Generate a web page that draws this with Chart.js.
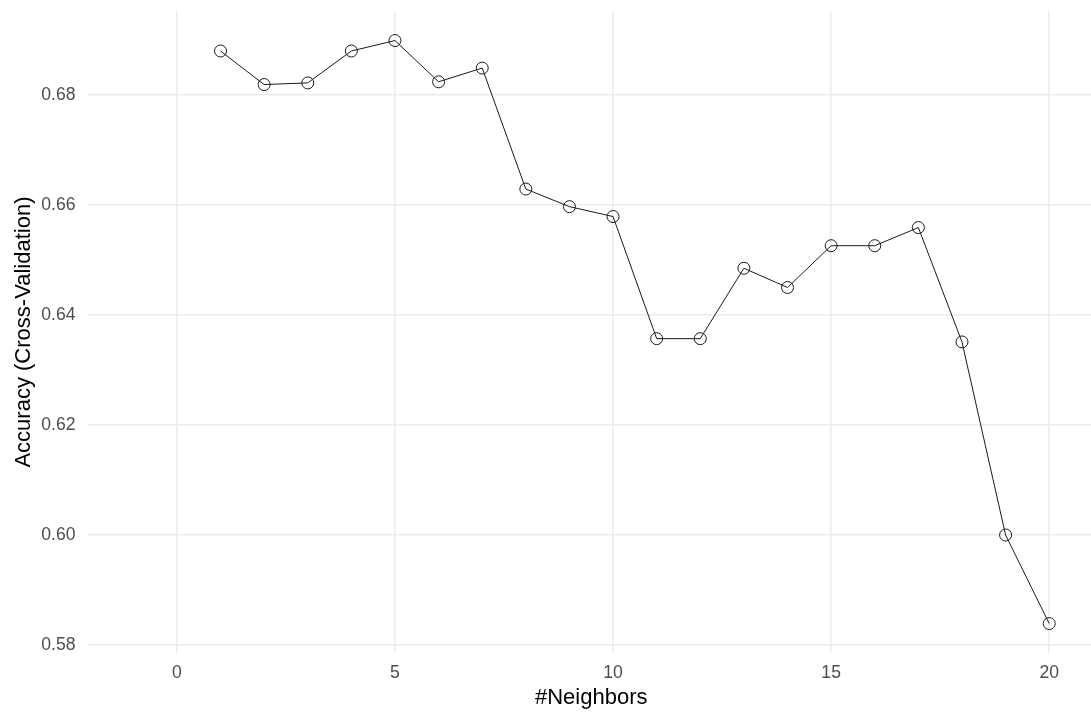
<!DOCTYPE html>
<html>
<head>
    <title>Accuracy vs Neighbors</title>
    <script src="https://cdn.jsdelivr.net/npm/chart.js@4/dist/chart.umd.min.js"></script>
    <style>
        body { margin: 0; background: #fff; overflow: hidden; }
        #wrap { width: 1091px; height: 715px; overflow: hidden; }
    </style>
</head>
<body>
    <div id="wrap">
        <canvas id="chartCanvas" width="1102" height="715"></canvas>
    </div>

    <script>
        // data
        const neighbors = [1, 2, 3, 4, 5, 6, 7, 8, 9, 10, 11, 12, 13, 14, 15, 16, 17, 18, 19, 20];
        const accuracy = [0.6880, 0.6819, 0.6822, 0.6880, 0.6899, 0.6824, 0.6849, 0.6629, 0.6597, 0.6579,
                          0.6357, 0.6357, 0.6485, 0.6450, 0.6526, 0.6526, 0.6559, 0.6351, 0.6000, 0.5839];
        const xTicks = [0, 5, 10, 15, 20];
        const yTicks = [0.58, 0.60, 0.62, 0.64, 0.66, 0.68];

        const font = 'Liberation Sans, Arial, sans-serif';
        const gridColor = '#ebebeb';

        const points = neighbors.map((n, i) => ({ x: n, y: accuracy[i] }));

        const ctx = document.getElementById('chartCanvas').getContext('2d');
        const chart = new Chart(ctx, {
            type: 'scatter',
            data: {
                datasets: [{
                    data: points,
                    showLine: true,
                    borderColor: '#1a1a1a',
                    borderWidth: 1,
                    pointRadius: 6,
                    pointHoverRadius: 6,
                    pointBorderWidth: 1,
                    pointBorderColor: '#1a1a1a',
                    pointBackgroundColor: 'rgba(0,0,0,0)',
                }],
            },
            options: {
                responsive: false,
                animation: false,
                layout: { padding: { top: 11.4, right: 0, bottom: 0, left: 0 } },
                plugins: {
                    legend: { display: false },
                    tooltip: { enabled: false },
                },
                scales: {
                    x: {
                        type: 'linear',
                        min: -2.05,
                        max: 21.05,
                        afterBuildTicks: s => { s.ticks = xTicks.map(v => ({ value: v })); },
                        afterFit: s => {
                            s.height = 62.3;
                            s.paddingLeft = 0;
                            s.paddingRight = 0;
                        },
                        grid: { color: gridColor, lineWidth: 1.5, drawTicks: false },
                        border: { display: false },
                        ticks: {
                            padding: 10,
                            color: '#4d4d4d',
                            font: { family: font, size: 17.6 },
                            callback: v => String(v),
                        },
                        title: {
                            display: true,
                            text: '#Neighbors',
                            color: '#000',
                            font: { family: font, size: 22 },
                            padding: { top: 0, bottom: 3.5 },
                        },
                    },
                    y: {
                        min: 0.5786,
                        max: 0.6952,
                        afterBuildTicks: s => { s.ticks = yTicks.map(v => ({ value: v })); },
                        afterFit: s => {
                            s.width = 87.5;
                            s.paddingTop = 0;
                            s.paddingBottom = 0;
                        },
                        grid: { color: gridColor, lineWidth: 1.5, drawTicks: false },
                        border: { display: false },
                        ticks: {
                            padding: 12,
                            color: '#4d4d4d',
                            font: { family: font, size: 17.6 },
                            callback: v => Number(v).toFixed(2),
                        },
                        title: {
                            display: true,
                            text: 'Accuracy (Cross-Validation)',
                            color: '#000',
                            font: { family: font, size: 22 },
                            padding: { top: 10.8, bottom: 0 },
                        },
                    },
                },
            },
        });
    </script>
</body>
</html>
